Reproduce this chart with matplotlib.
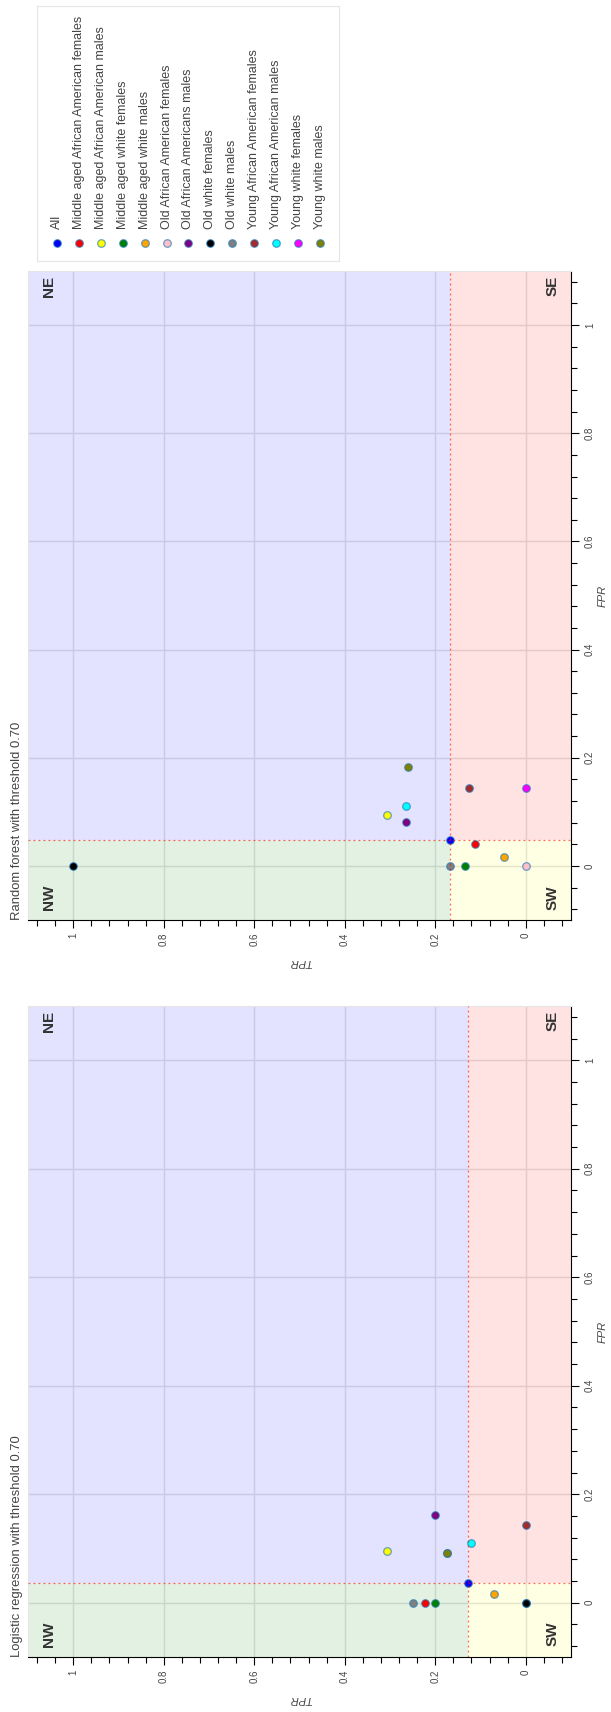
import numpy as np
import matplotlib.pyplot as plt
from matplotlib.patches import Rectangle
from matplotlib.ticker import MultipleLocator, FuncFormatter

plt.rcParams['font.family'] = ['Liberation Sans', 'DejaVu Sans']

# .. data (TPR, FPR per group), first entry is "All"
groups = ['All',
          'Middle aged African American females',
          'Middle aged African American males',
          'Middle aged white females',
          'Middle aged white males',
          'Old African American females',
          'Old African Americans males',
          'Old white females',
          'Old white males',
          'Young African American females',
          'Young African American males',
          'Young white females',
          'Young white males']
colors = ['#0000ff', '#ff0000', '#ffff00', '#008000', '#ffa500', '#ffc0cb',
          '#800080', '#000000', '#808080', '#a52a2a', '#00ffff', '#ff00ff', '#808000']

lr_tpr = [0.128, 0.222, 0.307, 0.200, 0.070, 0.0, 0.200, 0.0, 0.249, 0.0, 0.122, 0.174, 0.174]
lr_fpr = [0.036, 0.0, 0.095, 0.0, 0.017, 0.0, 0.161, 0.0, 0.0, 0.143, 0.111, 0.091, 0.091]

rf_tpr = [0.167, 0.112, 0.307, 0.134, 0.048, 0.0, 0.265, 1.0, 0.167, 0.125, 0.265, 0.0, 0.261]
rf_fpr = [0.048, 0.041, 0.095, 0.0, 0.017, 0.0, 0.081, 0.0, 0.0, 0.144, 0.111, 0.144, 0.183]

titles = ['Random forest with threshold 0.70', 'Logistic regression with threshold 0.70']

W, H = 611, 1712
TXT = '#444444'
LIM = (-0.1, 1.1)
EDGE = (0.12, 0.47, 0.71, 0.65)

fig = plt.figure(figsize=(W / 100, H / 100), dpi=100)


def px_axes(x0, y0, x1, y1):
    return fig.add_axes([x0 / W, 1 - y1 / H, (x1 - x0) / W, (y1 - y0) / H])


def panel(box, title, tpr, fpr):
    ax = px_axes(*box)
    ax.set_xlim(LIM[1], LIM[0])
    ax.set_ylim(*LIM)
    t_thr, f_thr = tpr[0], fpr[0]

    # quadrant shading: x = TPR, y = FPR
    quads = [(t_thr, LIM[1], f_thr, LIM[1], 'blue'),
             (LIM[0], t_thr, f_thr, LIM[1], 'red'),
             (t_thr, LIM[1], LIM[0], f_thr, 'green'),
             (LIM[0], t_thr, LIM[0], f_thr, 'yellow')]
    for x0, x1, y0, y1, c in quads:
        ax.add_patch(Rectangle((x0, y0), x1 - x0, y1 - y0, color=c, alpha=0.11, lw=0, zorder=1))

    ax.set_axisbelow(True)
    ax.grid(color='#e2e2e2', lw=1)

    for i in range(len(groups)):
        ax.scatter(tpr[i], fpr[i], s=30, color=colors[i], edgecolors=[EDGE], linewidths=0.9, zorder=3)

    ax.axvline(t_thr, color='red', alpha=0.6, lw=0.9, ls=(0, (1.5, 2.5)), zorder=4)
    ax.axhline(f_thr, color='red', alpha=0.6, lw=0.9, ls=(0, (1.5, 2.5)), zorder=4)

    kw = dict(rotation=90, ha='center', va='center', fontsize=11, fontweight='bold', color='#333333')
    ax.text(1.053, 1.072, 'NE', **kw)
    ax.text(-0.06, 1.072, 'SE', **kw)
    ax.text(1.053, -0.058, 'NW', **kw)
    ax.text(-0.06, -0.058, 'SW', **kw)

    fmt = FuncFormatter(lambda v, p: '%g' % round(v, 2))
    for axis in (ax.xaxis, ax.yaxis):
        axis.set_major_locator(MultipleLocator(0.2))
        axis.set_minor_locator(MultipleLocator(0.04))
        axis.set_major_formatter(fmt)
    ax.yaxis.tick_right()
    ax.yaxis.set_label_position('right')
    ax.tick_params(which='major', length=6, width=0.8, labelsize=7, labelcolor=TXT, color='black')
    ax.tick_params(which='minor', length=4, width=0.8, color='black')
    ax.tick_params(axis='x', labelrotation=90, pad=3)
    ax.tick_params(axis='y', labelrotation=90, pad=4)
    for lab in ax.get_yticklabels():
        lab.set_va('center')

    for s in ('bottom', 'right'):
        ax.spines[s].set_color('black')
        ax.spines[s].set_linewidth(0.8)
    for s in ('top', 'left'):
        ax.spines[s].set_color('#e5e5e5')
        ax.spines[s].set_linewidth(0.8)

    ax.set_xlabel('TPR', rotation=180, fontstyle='italic', fontsize=8, color=TXT, labelpad=8)
    ax.set_ylabel('FPR', rotation=90, fontstyle='italic', fontsize=8, color=TXT, labelpad=2)

    fig.text(17 / W, 1 - box[3] / H, title, rotation=90, ha='center', va='bottom',
             fontsize=9.4, color=TXT)
    return ax


panel((28, 271, 571, 920), titles[0], rf_tpr, rf_fpr)
panel((28, 1006, 571, 1657), titles[1], lr_tpr, lr_fpr)

# .. legend, drawn by hand so that its labels can stand rotated
lg = px_axes(37, 6, 339, 261)
lg.set_xlim(37, 339)
lg.set_ylim(261, 6)
lg.set_xticks([])
lg.set_yticks([])
for s in lg.spines.values():
    s.set_color('#e5e5e5')
    s.set_linewidth(0.8)
xs = 57 + 21.9 * np.arange(len(groups))
for x, name, c in zip(xs, groups, colors):
    lg.scatter(x, 243, s=30, color=c, edgecolors=[EDGE], linewidths=0.9)
    lg.text(x, 229, name, rotation=90, ha='center', va='bottom', fontsize=9, color=TXT)

fig.savefig('out.png', dpi=100)
